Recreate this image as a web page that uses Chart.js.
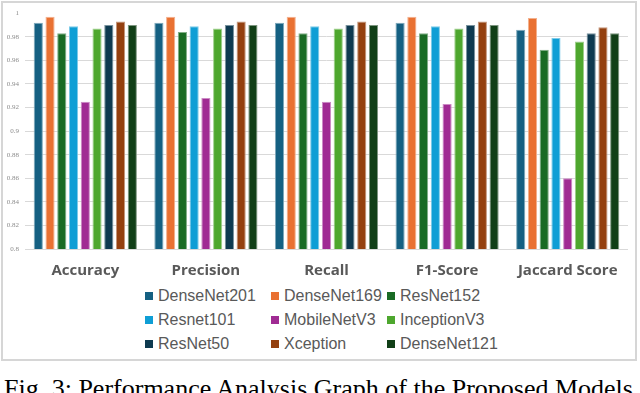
<!DOCTYPE html>
<html lang="en">
<head>
    <meta charset="UTF-8">
    <title>Performance Analysis Graph</title>
    <script src="https://cdn.jsdelivr.net/npm/chart.js"></script>
    <style>
        body {
            margin: 0;
            width: 640px;
            height: 393px;
            overflow: hidden;
            background: #fff;
            position: relative;
        }
        #frame {
            position: absolute;
            left: 1px;
            top: 1px;
            width: 632px;
            height: 356px;
            border: 2px solid #d6d6d6;
        }
        #chart {
            position: absolute;
            left: 0;
            top: 0;
        }
        #legend {
            position: absolute;
            left: 142px;
            top: 281px;
            display: grid;
            grid-template-columns: 126px 116px 120px;
            grid-auto-rows: 24px;
            font-family: "Liberation Sans", Arial, sans-serif;
            font-size: 16px;
            color: #595959;
        }
        .item {
            display: flex;
            align-items: center;
            white-space: nowrap;
        }
        .swatch {
            width: 8px;
            height: 8px;
            margin-right: 5px;
        }
        #caption {
            position: absolute;
            left: 4px;
            top: 376px;
            line-height: 26px;
            font-family: "Liberation Serif", "Times New Roman", serif;
            font-size: 26px;
            color: #000;
            white-space: nowrap;
        }
    </style>
</head>
<body>
    <div id="frame">
        <canvas id="chart" width="632" height="280"></canvas>
        <div id="legend"></div>
    </div>
    <div id="caption">Fig. 3: Performance Analysis Graph of the Proposed Models</div>

    <script>
        // metrics on the x axis
        const categories = ['Accuracy', 'Precision', 'Recall', 'F1-Score', 'Jaccard Score'];

        // one array per model, in metric order
        const denseNet201 = [0.992, 0.992, 0.992, 0.992, 0.986];
        const denseNet169 = [0.997, 0.997, 0.997, 0.997, 0.996];
        const resNet152   = [0.983, 0.984, 0.983, 0.983, 0.969];
        const resnet101   = [0.989, 0.989, 0.989, 0.989, 0.979];
        const mobileNetV3 = [0.925, 0.928, 0.925, 0.923, 0.860];
        const inceptionV3 = [0.987, 0.987, 0.987, 0.987, 0.976];
        const resNet50    = [0.990, 0.990, 0.990, 0.990, 0.983];
        const xception    = [0.993, 0.993, 0.993, 0.993, 0.988];
        const denseNet121 = [0.990, 0.990, 0.990, 0.990, 0.983];

        const modelNames = ['DenseNet201', 'DenseNet169', 'ResNet152', 'Resnet101', 'MobileNetV3',
                            'InceptionV3', 'ResNet50', 'Xception', 'DenseNet121'];
        const modelValues = [denseNet201, denseNet169, resNet152, resnet101, mobileNetV3,
                             inceptionV3, resNet50, xception, denseNet121];
        const modelColors = ['#156082', '#E97132', '#196B24', '#0F9ED5', '#A02B93',
                             '#4EA72E', '#0E3A50', '#94400F', '#113F17'];

        // y axis range / step
        const yMin = 0.8;
        const yMax = 1;
        const yStep = 0.02;

        // lighter edge like the excel bars
        function tint(hex, amt) {
            const n = parseInt(hex.slice(1), 16);
            const r = (n >> 16) & 255, g = (n >> 8) & 255, b = n & 255;
            const mix = c => Math.round(c + (255 - c) * amt);
            return `rgb(${mix(r)},${mix(g)},${mix(b)})`;
        }

        const datasets = modelNames.map((name, i) => ({
            label: name,
            data: modelValues[i],
            backgroundColor: modelColors[i],
            borderColor: tint(modelColors[i], 0.45),
            borderWidth: 1,
            categoryPercentage: 0.877,
            barPercentage: 0.78
        }));

        const chart = new Chart(document.getElementById('chart'), {
            type: 'bar',
            data: {
                labels: categories,
                datasets: datasets
            },
            options: {
                responsive: false,
                animation: false,
                layout: {
                    padding: { left: 0, right: 7, top: 7, bottom: 0 }
                },
                plugins: {
                    legend: { display: false },
                    tooltip: { enabled: false }
                },
                scales: {
                    x: {
                        grid: { display: false },
                        border: { display: false },
                        ticks: {
                            padding: 5,
                            color: '#595959',
                            font: { family: 'Open Sans', size: 15, weight: 'bold' }
                        },
                        afterFit: scale => { scale.height = 34; }
                    },
                    y: {
                        min: yMin,
                        max: yMax,
                        ticks: {
                            stepSize: yStep,
                            padding: 6,
                            color: '#8c8c8c',
                            font: { family: 'Liberation Serif', size: 7 },
                            // excel style: 1, 0.98 ... 0.9 ... 0.8
                            callback: v => String(parseFloat(Number(v).toFixed(2)))
                        },
                        grid: {
                            drawTicks: false,
                            color: c => (c.tick && c.tick.value > 0.999) ? 'rgba(0,0,0,0)' : '#d9d9d9'
                        },
                        border: { display: false },
                        afterFit: scale => { scale.width = 22; }
                    }
                }
            }
        });

        // legend in three aligned columns
        const legend = document.getElementById('legend');
        chart.data.datasets.forEach(ds => {
            const item = document.createElement('div');
            item.className = 'item';
            const sw = document.createElement('span');
            sw.className = 'swatch';
            sw.style.background = ds.backgroundColor;
            item.appendChild(sw);
            item.appendChild(document.createTextNode(ds.label));
            legend.appendChild(item);
        });
    </script>
</body>
</html>
